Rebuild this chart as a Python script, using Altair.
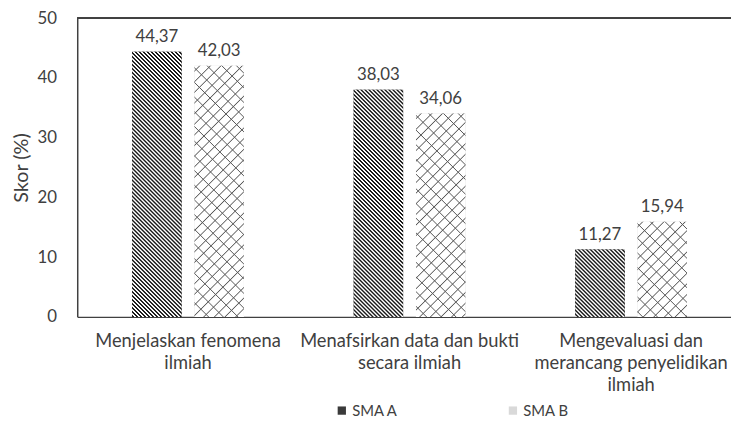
import math
import altair as alt
import pandas as pd

# ---- data ----
categories = [
    "Menjelaskan fenomena\nilmiah",
    "Menafsirkan data dan bukti\nsecara ilmiah",
    "Mengevaluasi dan\nmerancang penyelidikan\nilmiah",
]
schools = ["SMA A", "SMA B"]
sma_a = [44.37, 38.03, 11.27]
sma_b = [42.03, 34.06, 15.94]
y_ticks = [0, 10, 20, 30, 40, 50]

rows = []
for c, a, b in zip(categories, sma_a, sma_b):
    rows.append({"category": c, "school": "SMA A", "value": a})
    rows.append({"category": c, "school": "SMA B", "value": b})
df = pd.DataFrame(rows)

# ---- layout / style ----
PLOT_H = 302
PLOT_W = 661
RANGE_W = 672
Y_MAX = 50
BAND = RANGE_W / len(categories)
BAR_W = 50.0
GAP = 13.0
step = BAR_W + GAP
p_in = GAP / step
p_out = (BAND / step - 2 + p_in) / 2
FONT = "Lato"
TXT = "#404040"


def stripes(w, h, direction, period, bg, line, pattern):
    """Linear gradient that draws 45-degree stripes in a w x h box."""
    s = (w + h) / (w * w + h * h)
    if direction == "down":  # "\" lines
        x1, y1, x2, y2 = 1, 0, 1 - s * w, s * h
    else:  # "/" lines
        x1, y1, x2, y2 = 0, 0, s * w, s * h
    dist = (w + h) / math.sqrt(2)
    n = dist / period
    stops = []
    k = 0
    while k / n <= 1:
        for frac, col in pattern:
            off = (k + frac) / n
            if off <= 1:
                stops.append({"offset": round(off, 6), "color": line if col else bg})
        k += 1
    if stops[-1]["offset"] < 1:
        stops.append({"offset": 1, "color": stops[-1]["color"]})
    return {"gradient": "linear", "x1": x1, "y1": y1, "x2": x2, "y2": y2, "stops": stops}


PAT_A = [(0.0, 0), (0.22, 0), (0.45, 1), (0.72, 1), (0.95, 0)]
PAT_B1 = [(0.0, 0), (0.39, 0), (0.5, 1), (0.61, 0)]
PAT_B2 = [(0.0, 0), (0.43, 0), (0.5, 1), (0.57, 0)]

x_enc = alt.X(
    "category:N",
    sort=categories,
    scale=alt.Scale(domain=categories, range=[0, RANGE_W], paddingInner=0, paddingOuter=0),
    axis=alt.Axis(
        title=None,
        labelAngle=0,
        ticks=False,
        labelExpr="split(datum.label, '\\n')",
        labelFont=FONT,
        labelFontSize=18.5,
        labelColor=TXT,
        labelLineHeight=22,
        labelPadding=15,
        labelBaseline="top",
        labelLimit=0,
        domainColor=TXT,
        domainWidth=1.5,
    ),
)
xo_enc = alt.XOffset(
    "school:N",
    sort=schools,
    scale=alt.Scale(domain=schools, paddingInner=p_in, paddingOuter=p_out),
)
y_enc = alt.Y(
    "value:Q",
    scale=alt.Scale(domain=[0, Y_MAX], nice=False),
    axis=alt.Axis(
        values=y_ticks,
        grid=False,
        ticks=False,
        tickSize=0,
        labelPadding=21,
        labelFont=FONT,
        labelFontSize=17,
        labelColor=TXT,
        domainColor=TXT,
        domainWidth=1.5,
        title="Skor (%)",
        titleFont=FONT,
        titleFontSize=20,
        titleFontWeight="normal",
        titleColor=TXT,
        titlePadding=6,
    ),
)

base = alt.Chart(df)

legend_bars = base.mark_bar(strokeWidth=0).encode(
    x=x_enc,
    xOffset=xo_enc,
    y=y_enc,
    color=alt.Color(
        "school:N",
        sort=schools,
        scale=alt.Scale(domain=schools, range=["#3a3a3a", "#d9d9d9"]),
        legend=alt.Legend(
            title=None,
            orient="none",
            legendX=260,
            legendY=389,
            direction="horizontal",
            symbolType="square",
            symbolSize=70,
            symbolStrokeWidth=0,
            labelFont=FONT,
            labelFontSize=15,
            labelColor=TXT,
            labelOffset=3,
            columnPadding=108,
        ),
    ),
)

layers = [legend_bars]
for cat, va, vb in zip(categories, sma_a, sma_b):
    ha = va / Y_MAX * PLOT_H
    hb = vb / Y_MAX * PLOT_H
    ga = stripes(BAR_W, ha, "down", 2.85, "#ffffff", "#1a1a1a", PAT_A)
    gb1 = stripes(BAR_W, hb, "up", 7.6, "#ffffff", "#5a5a5a", PAT_B1)
    gb2 = stripes(BAR_W, hb, "down", 10.5, "rgba(90,90,90,0)", "#5a5a5a", PAT_B2)
    fa = (alt.datum.category == cat) & (alt.datum.school == "SMA A")
    fb = (alt.datum.category == cat) & (alt.datum.school == "SMA B")
    layers.append(base.transform_filter(fa).mark_bar(fill=ga, strokeWidth=0).encode(x=x_enc, xOffset=xo_enc, y=y_enc))
    layers.append(base.transform_filter(fb).mark_bar(fill=gb1, strokeWidth=0).encode(x=x_enc, xOffset=xo_enc, y=y_enc))
    layers.append(base.transform_filter(fb).mark_bar(fill=gb2, strokeWidth=0).encode(x=x_enc, xOffset=xo_enc, y=y_enc))

labels = base.transform_calculate(
    label="replace(format(datum.value, '.2f'), '.', ',')"
).mark_text(baseline="bottom", dy=-6, font=FONT, fontSize=17, color=TXT).encode(
    x=x_enc, xOffset=xo_enc, y=y_enc, text="label:N"
)
layers.append(labels)

top_rule = base.mark_rule(color=TXT, strokeWidth=1.5).encode(y=alt.datum(Y_MAX))
layers.append(top_rule)

chart = (
    alt.layer(*layers)
    .properties(
        width=PLOT_W,
        height=PLOT_H,
        padding={"left": 70, "top": 8, "right": 0, "bottom": 105},
        autosize=alt.AutoSizeParams(type="none"),
        background="white",
    )
    .configure_view(stroke=None)
)

chart.save("out.html", embed_options={"renderer": "svg", "actions": False})
